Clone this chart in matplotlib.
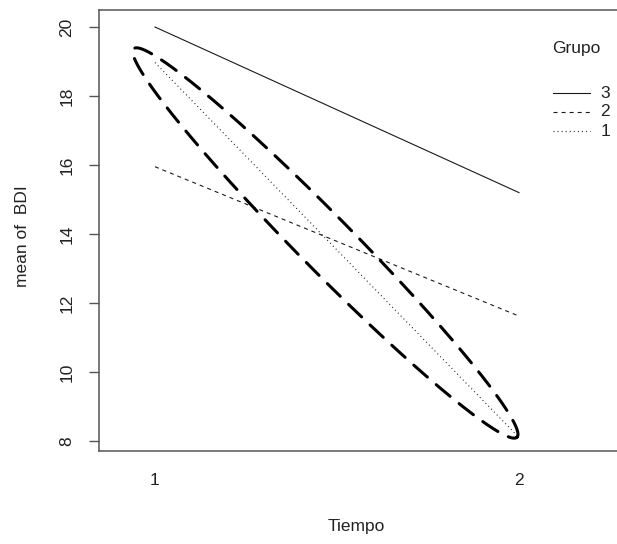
import numpy as np
import matplotlib
matplotlib.use('Agg')
import matplotlib.pyplot as plt
from matplotlib.lines import Line2D

# ---- data ----
tiempo = [1, 2]
tiempo_labels = ['1', '2']
grupos = ['3', '2', '1']
bdi_g3 = [20.0, 15.2]
bdi_g2 = [15.95, 11.62]
bdi_g1 = [18.97, 8.1]
yticks = [8, 10, 12, 14, 16, 18, 20]

# ellipse annotation (data units): centre, half major axis vector, half minor axis vector
ell_center = (1.468, 13.74)
ell_major = (0.5265, -5.63)
ell_minor = (0.0533, 0.556)

plt.rcParams['font.family'] = ['Liberation Sans', 'DejaVu Sans']
plt.rcParams['lines.scale_dashes'] = False

W, H = 617, 544
fig = plt.figure(figsize=(W / 100, H / 100), dpi=100)
L, R, B, T = 98.5, 664.6, 451, 10
ax = fig.add_axes([L / W, 1 - B / H, (R - L) / W, (B - T) / H])
ax.set_xlim(0.8448, 2.4)
ax.set_ylim(7.710, 20.493)

lc = '#1a1a1a'
tc = '#222222'
fs = 12.5
ax.plot(tiempo, bdi_g3, color=lc, lw=0.8, linestyle='-')
ax.plot(tiempo, bdi_g2, color=lc, lw=0.8, linestyle=(0, (2.9, 2.9)))
ax.plot(tiempo, bdi_g1, color=lc, lw=0.8, linestyle=(0, (0.72, 2.2)))

t = np.linspace(0, 2 * np.pi, 400)
ex = ell_center[0] + np.cos(t) * ell_major[0] + np.sin(t) * ell_minor[0]
ey = ell_center[1] + np.cos(t) * ell_major[1] + np.sin(t) * ell_minor[1]
ax.plot(ex, ey, color='black', lw=2.2, linestyle=(0, (13, 8.4)),
        dash_capstyle='round', clip_on=False)

# axes styling
for s in ['top', 'bottom', 'left']:
    ax.spines[s].set_color('#555555')
    ax.spines[s].set_linewidth(1.1)
ax.spines['right'].set_visible(False)

ax.set_yticks(yticks)
ax.set_yticklabels([str(v) for v in yticks])
ax.tick_params(axis='y', length=7.5, width=1.0, color='#555555', pad=10,
               labelsize=fs, labelrotation=90, labelcolor=tc)
for lab in ax.get_yticklabels():
    lab.set_va('center')
ax.set_xticks(tiempo)
ax.set_xticklabels(tiempo_labels)
ax.tick_params(axis='x', length=0, pad=16, labelsize=fs, labelcolor=tc)

ax.set_xlabel('Tiempo', fontsize=fs, color=tc, va='center')
ax.xaxis.set_label_coords(356 / W, 1 - 526 / H, transform=fig.transFigure)
ax.set_ylabel('mean of  BDI', fontsize=fs, color=tc, va='center')
ax.yaxis.set_label_coords(23 / W, 1 - 236 / H, transform=fig.transFigure)

# legend (R interaction.plot style)
fig.text(552 / W, 1 - 48 / H, 'Grupo', ha='left', va='center', fontsize=fs, color=tc)
styles = ['-', (0, (2.9, 2.9)), (0, (0.72, 2.2))]
for i, (g, st) in enumerate(zip(grupos, styles)):
    yy = 1 - (93 + 19 * i) / H
    fig.add_artist(Line2D([553 / W, 590 / W], [yy, yy], transform=fig.transFigure,
                          color=lc, lw=0.8, linestyle=st))
    fig.text(605 / W, yy, g, ha='center', va='center', fontsize=fs, color=tc)

fig.savefig('out.png', dpi=100)
